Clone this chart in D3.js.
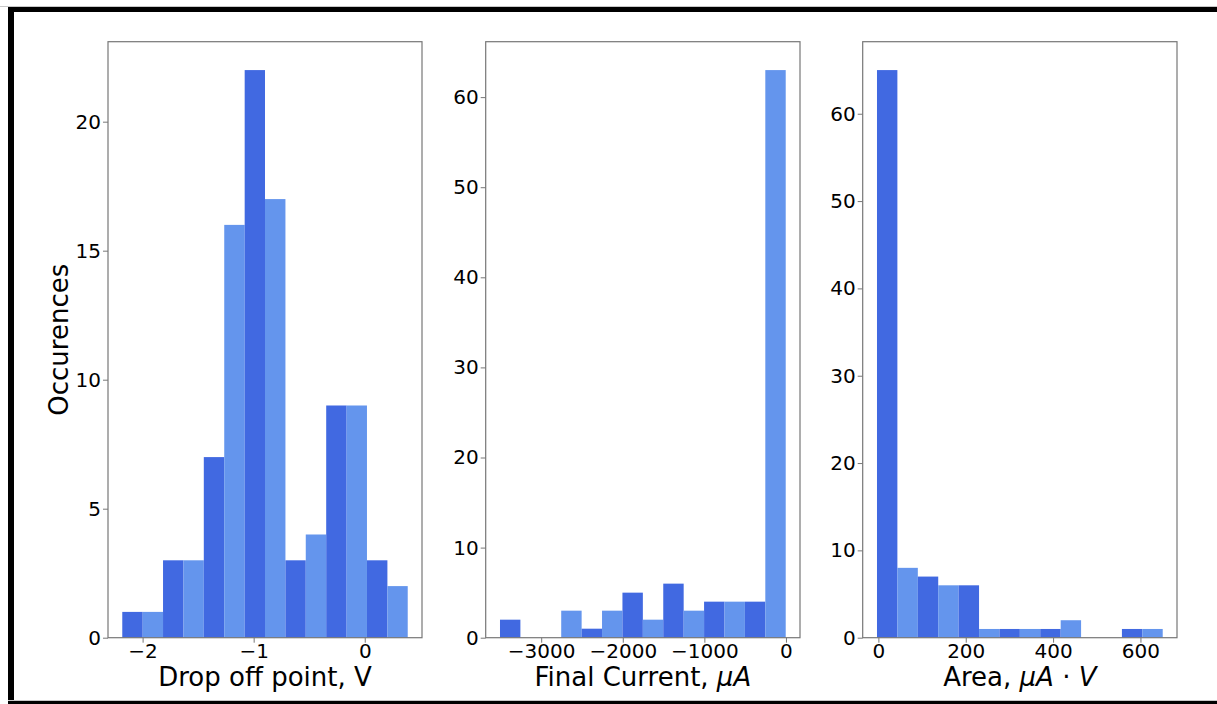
<!DOCTYPE html>
<html>
<head>
<meta charset="utf-8">
<script src="https://cdn.jsdelivr.net/npm/d3@7"></script>
<style>
  html, body { margin: 0; padding: 0; background: #fff; }
  svg { display: block; }
  svg text { font-family: "DejaVu Sans"; }
</style>
</head>
<body>
<svg id="chart" width="1217" height="704"></svg>
<script>
// Histogram bin edges and counts for each measurement
const voltEdges = [-2.183, -1.999, -1.816, -1.632, -1.449, -1.265, -1.081, -0.898,
                   -0.714, -0.531, -0.347, -0.163, 0.020, 0.204, 0.387];
const voltCounts = [1, 1, 3, 3, 7, 16, 22, 17, 3, 4, 9, 9, 3, 2];
const voltTicks = [-2, -1, 0];
const voltYTicks = [0, 5, 10, 15, 20];

const currentEdges = [-3505, -3254.9, -3004.7, -2754.6, -2504.4, -2254.3, -2004.1, -1754.0,
                      -1503.9, -1253.7, -1003.6, -753.4, -503.3, -253.1, -3];
const currentCounts = [2, 0, 0, 3, 1, 3, 5, 2, 6, 3, 4, 4, 4, 63];
const currentTicks = [-3000, -2000, -1000, 0];
const currentYTicks = [0, 10, 20, 30, 40, 50, 60];

const areaEdges = [-3.2, 43.5, 90.3, 137.0, 183.7, 230.5, 277.2, 323.9,
                   370.6, 417.4, 464.1, 510.8, 557.6, 604.3, 651.0];
const areaCounts = [65, 8, 7, 6, 6, 1, 1, 1, 1, 2, 0, 0, 1, 1];
const areaTicks = [0, 200, 400, 600];
const areaYTicks = [0, 10, 20, 30, 40, 50, 60];

const barColors = ["#4169E1", "#6495ED"];
const spineColor = "#777777";
const FONT = "DejaVu Sans";

const svg = d3.select("#chart");

// Frame around the figure
svg.append("rect").attr("x", 0).attr("y", 6).attr("width", 1217).attr("height", 1).attr("fill", "#c8c8c8");
svg.append("rect").attr("x", 8).attr("y", 7).attr("width", 1209).attr("height", 5).attr("fill", "#000");
svg.append("rect").attr("x", 8).attr("y", 7).attr("width", 6).attr("height", 697).attr("fill", "#000");
svg.append("rect").attr("x", 8).attr("y", 700).attr("width", 1209).attr("height", 1).attr("fill", "#c8c8c8");
svg.append("rect").attr("x", 8).attr("y", 701).attr("width", 1209).attr("height", 3).attr("fill", "#000");

const plotTop = 41.7, plotBottom = 637.7;

function panel(opts) {
  const { left, right, edges, counts, xTicks, yTicks, label } = opts;
  const lo = edges[0], hi = edges[edges.length - 1];
  const pad = (hi - lo) * 0.05;
  const x = d3.scaleLinear().domain([lo - pad, hi + pad]).range([left, right]);
  const yMax = d3.max(counts) * 1.05;
  const y = d3.scaleLinear().domain([0, yMax]).range([plotBottom, plotTop]);

  const bins = counts.map((c, i) => ({ x0: edges[i], x1: edges[i + 1], c, i }));
  const g = svg.append("g");

  g.selectAll("rect.bar").data(bins.filter(d => d.c > 0)).enter().append("rect")
    .attr("class", "bar")
    .attr("x", d => x(d.x0))
    .attr("width", d => x(d.x1) - x(d.x0))
    .attr("y", d => y(d.c))
    .attr("height", d => y(0) - y(d.c))
    .attr("fill", d => barColors[d.i % 2]);

  // Axes
  const xAxis = d3.axisBottom(x).tickValues(xTicks).tickSize(5).tickPadding(4)
    .tickFormat(d3.format("d"));
  const yAxis = d3.axisLeft(y).tickValues(yTicks).tickSize(5).tickPadding(4)
    .tickFormat(d3.format("d"));

  const gx = g.append("g").attr("transform", `translate(0,${plotBottom})`).call(xAxis);
  const gy = g.append("g").attr("transform", `translate(${left},0)`).call(yAxis);
  [gx, gy].forEach(a => {
    a.attr("font-size", null).attr("font-family", null);
    a.select(".domain").remove();
    a.selectAll(".tick line").attr("stroke", spineColor).attr("stroke-width", 1);
    a.selectAll(".tick text").attr("fill", "#000")
      .attr("font-family", FONT).style("font-family", FONT)
      .attr("font-size", 20).style("font-size", "20px");
  });
  gx.selectAll(".tick text").attr("dy", null).attr("y", 20.8);
  gy.selectAll(".tick text").attr("x", -7);

  // Spines
  g.append("rect").attr("x", left).attr("y", plotTop)
    .attr("width", right - left).attr("height", plotBottom - plotTop)
    .attr("fill", "none").attr("stroke", spineColor).attr("stroke-width", 1.2);

  // Axis label
  const t = g.append("text").attr("x", (left + right) / 2).attr("y", 686)
    .attr("text-anchor", "middle").style("font-family", FONT)
    .style("font-size", "26px").attr("fill", "#000");
  label.forEach(p => {
    const s = t.append("tspan").text(p.text);
    if (p.italic) s.attr("font-style", "italic");
  });
  return g;
}

panel({ left: 108, right: 422, edges: voltEdges, counts: voltCounts,
        xTicks: voltTicks, yTicks: voltYTicks,
        label: [{ text: "Drop off point, V" }] });
panel({ left: 485.7, right: 800, edges: currentEdges, counts: currentCounts,
        xTicks: currentTicks, yTicks: currentYTicks,
        label: [{ text: "Final Current, " }, { text: "μA", italic: true }] });
panel({ left: 862.7, right: 1177, edges: areaEdges, counts: areaCounts,
        xTicks: areaTicks, yTicks: areaYTicks,
        label: [{ text: "Area, " }, { text: "μA", italic: true }, { text: " · " }, { text: "V", italic: true }] });

svg.append("text")
  .attr("transform", `translate(68,${(plotTop + plotBottom) / 2}) rotate(-90)`)
  .attr("text-anchor", "middle").style("font-family", FONT)
  .style("font-size", "26px").attr("fill", "#000")
  .text("Occurences");
</script>
</body>
</html>
